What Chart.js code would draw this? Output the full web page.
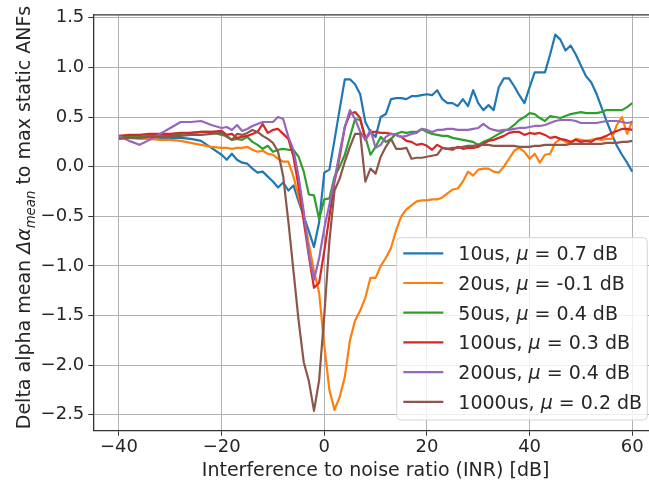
<!DOCTYPE html>
<html>
<head>
<meta charset="utf-8">
<script src="https://cdn.jsdelivr.net/npm/chart.js@4"></script>
<style>
  html, body { margin: 0; padding: 0; background: #fff; }
  #wrap { width: 649px; height: 484px; overflow: hidden; }
</style>
</head>
<body>
<div id="wrap"><canvas id="chart" width="670" height="484"></canvas></div>
<script>
// INR grid (dB)
const inr = [-40, -38, -36, -34, -32, -30, -28, -26, -24, -22, -20,
  -19, -18, -17, -16, -15, -14, -13, -12, -11, -10, -9, -8, -7, -6, -5, -4, -3, -2, -1,
  0, 1, 2, 3, 4, 5, 6, 7, 8, 9,
  10, 11, 12, 13, 14, 15, 16, 17, 18, 19,
  20, 21, 22, 23, 24, 25, 26, 27, 28, 29,
  30, 31, 32, 33, 34, 35, 36, 37, 38, 39,
  40, 41, 42, 43, 44, 45, 46, 47, 48, 49,
  50, 51, 52, 53, 54, 55, 56, 57, 58, 59, 60];

const alpha10us = [0.31, 0.30, 0.30, 0.30, 0.29, 0.29, 0.29, 0.28, 0.26, 0.19, 0.12,
  0.07, 0.13, 0.07, 0.04, 0.03, -0.02, -0.06, -0.05, -0.10, -0.15, -0.21, -0.16, -0.24, -0.19, -0.35, -0.50, -0.65, -0.81, -0.56,
  -0.06, -0.03, 0.27, 0.58, 0.88, 0.88, 0.83, 0.73, 0.45, 0.35,
  0.30, 0.50, 0.53, 0.68, 0.69, 0.69, 0.68, 0.71, 0.71, 0.72,
  0.73, 0.72, 0.77, 0.68, 0.64, 0.64, 0.61, 0.68, 0.61, 0.77,
  0.64, 0.57, 0.62, 0.57, 0.80, 0.89, 0.89, 0.81, 0.72, 0.64,
  0.80, 0.95, 0.95, 0.95, 1.13, 1.33, 1.28, 1.17, 1.22, 1.13,
  1.02, 0.91, 0.85, 0.74, 0.60, 0.46, 0.33, 0.21, 0.12, 0.04, -0.05];

const alpha20us = [0.30, 0.29, 0.28, 0.28, 0.27, 0.27, 0.26, 0.24, 0.22, 0.20, 0.19,
  0.19, 0.18, 0.19, 0.19, 0.20, 0.17, 0.15, 0.16, 0.13, 0.12, 0.08, 0.05, 0.05, -0.10, -0.30, -0.50, -0.78, -1.05, -1.27,
  -1.80, -2.25, -2.45, -2.32, -2.12, -1.75, -1.55, -1.45, -1.32, -1.12,
  -1.12, -1.00, -0.92, -0.82, -0.64, -0.50, -0.43, -0.39, -0.35, -0.34,
  -0.34, -0.33, -0.33, -0.31, -0.27, -0.23, -0.22, -0.15, -0.05, -0.09,
  -0.03, -0.02, -0.02, -0.05, -0.06, 0.00, 0.08, 0.16, 0.19, 0.15,
  0.08, 0.13, 0.04, 0.12, 0.13, 0.24, 0.28, 0.25, 0.23, 0.28,
  0.27, 0.26, 0.27, 0.28, 0.27, 0.28, 0.28, 0.42, 0.50, 0.33, 0.46];

const alpha50us = [0.30, 0.30, 0.30, 0.31, 0.31, 0.32, 0.33, 0.34, 0.35, 0.35, 0.32,
  0.31, 0.27, 0.28, 0.27, 0.30, 0.25, 0.22, 0.18, 0.21, 0.15, 0.17, 0.18, 0.17, 0.17, 0.10, -0.05, -0.28, -0.29, -0.53,
  -0.33, -0.32, -0.10, 0.00, 0.12, 0.30, 0.48, 0.47, 0.30, 0.12,
  0.20, 0.30, 0.25, 0.28, 0.33, 0.35, 0.34, 0.35, 0.35, 0.38,
  0.35, 0.33, 0.32, 0.31, 0.31, 0.29, 0.28, 0.27, 0.26, 0.25,
  0.22, 0.25, 0.27, 0.30, 0.33, 0.36, 0.38, 0.42, 0.47, 0.50,
  0.54, 0.53, 0.49, 0.46, 0.51, 0.50, 0.49, 0.51, 0.53, 0.54,
  0.55, 0.54, 0.54, 0.54, 0.55, 0.57, 0.57, 0.57, 0.57, 0.60, 0.64];

const alpha100us = [0.31, 0.32, 0.32, 0.33, 0.33, 0.33, 0.34, 0.34, 0.35, 0.35, 0.36,
  0.32, 0.33, 0.29, 0.30, 0.31, 0.33, 0.35, 0.43, 0.34, 0.37, 0.38, 0.33, 0.28, 0.10, -0.20, -0.55, -0.90, -1.22, -1.17,
  -0.85, -0.50, -0.15, 0.10, 0.40, 0.53, 0.55, 0.49, 0.27, 0.35,
  0.35, 0.34, 0.34, 0.33, 0.32, 0.30, 0.26, 0.25, 0.22, 0.23,
  0.21, 0.17, 0.22, 0.19, 0.18, 0.17, 0.20, 0.18, 0.19, 0.19,
  0.20, 0.23, 0.26, 0.27, 0.29, 0.31, 0.34, 0.35, 0.35, 0.32,
  0.34, 0.33, 0.34, 0.32, 0.29, 0.30, 0.28, 0.27, 0.25, 0.27,
  0.25, 0.26, 0.25, 0.28, 0.29, 0.31, 0.34, 0.36, 0.38, 0.38, 0.37];

const alpha200us = [0.31, 0.26, 0.22, 0.27, 0.33, 0.39, 0.45, 0.45, 0.46, 0.42, 0.39,
  0.40, 0.37, 0.42, 0.36, 0.38, 0.41, 0.43, 0.45, 0.45, 0.45, 0.50, 0.48, 0.30, 0.17, -0.10, -0.45, -0.88, -1.14, -0.92,
  -0.62, -0.38, -0.13, 0.14, 0.40, 0.57, 0.48, 0.35, 0.27, 0.37,
  0.19, 0.22, 0.30, 0.33, 0.32, 0.30, 0.31, 0.33, 0.34, 0.38,
  0.37, 0.35, 0.37, 0.37, 0.38, 0.38, 0.37, 0.37, 0.37, 0.38,
  0.39, 0.43, 0.39, 0.37, 0.36, 0.37, 0.37, 0.38, 0.39, 0.39,
  0.40, 0.41, 0.41, 0.42, 0.44, 0.46, 0.47, 0.47, 0.47, 0.46,
  0.44, 0.44, 0.44, 0.44, 0.45, 0.46, 0.46, 0.46, 0.45, 0.44, 0.45];

const alpha1000us = [0.28, 0.29, 0.29, 0.30, 0.30, 0.31, 0.31, 0.32, 0.32, 0.33, 0.34,
  0.30, 0.27, 0.33, 0.32, 0.34, 0.37, 0.35, 0.31, 0.28, 0.24, 0.15, -0.10, -0.55, -1.05, -1.55, -1.97, -2.16, -2.46, -2.15,
  -1.50, -0.75, -0.24, -0.12, 0.05, 0.20, 0.33, 0.33, -0.15, -0.02,
  -0.07, 0.10, 0.20, 0.28, 0.18, 0.18, 0.19, 0.08, 0.09, 0.09,
  0.10, 0.11, 0.12, 0.19, 0.18, 0.19, 0.19, 0.20, 0.21, 0.21,
  0.22, 0.22, 0.22, 0.21, 0.21, 0.21, 0.21, 0.21, 0.20, 0.20,
  0.20, 0.21, 0.21, 0.22, 0.22, 0.22, 0.22, 0.22, 0.23, 0.23,
  0.23, 0.23, 0.23, 0.23, 0.23, 0.24, 0.24, 0.24, 0.25, 0.25, 0.26];

const labels = ['10us, μ = 0.7 dB', '20us, μ = -0.1 dB', '50us, μ = 0.4 dB',
  '100us, μ = 0.3 dB', '200us, μ = 0.4 dB', '1000us, μ = 0.2 dB'];
const colors = ['#1f77b4', '#ff7f0e', '#2ca02c', '#d62728', '#9467bd', '#8c564b'];
const series = [alpha10us, alpha20us, alpha50us, alpha100us, alpha200us, alpha1000us];

const xTitle = 'Interference to noise ratio (INR) [dB]';
const textColor = '#262626';
const family = '"DejaVu Sans", sans-serif';

function minus(s) { return String(s).replace('-', '\u2212'); }

// axis titles (y title has italic Δα with "mean" subscript) + top spine
const axisTitles = {
  id: 'axisTitles',
  afterDraw(chart) {
    const ctx = chart.ctx, a = chart.chartArea;
    ctx.save();
    ctx.fillStyle = textColor;
    ctx.font = '19px ' + family;
    ctx.textAlign = 'center';
    ctx.textBaseline = 'alphabetic';
    ctx.fillText(xTitle, (a.left + a.right) / 2, 476);

    const parts = [
      {t: 'Delta alpha mean ', f: '19px ' + family, dy: 0},
      {t: 'Δα', f: 'italic 19px ' + family, dy: 0},
      {t: 'mean', f: 'italic 13.3px ' + family, dy: 4.5},
      {t: ' to max static ANFs', f: '19px ' + family, dy: 0}
    ];
    let total = 0;
    parts.forEach(p => { ctx.font = p.f; p.w = ctx.measureText(p.t).width; total += p.w; });
    ctx.translate(30, 217.5);
    ctx.rotate(-Math.PI / 2);
    ctx.textAlign = 'left';
    let x = -total / 2;
    parts.forEach(p => { ctx.font = p.f; ctx.fillText(p.t, x, p.dy); x += p.w; });
    ctx.restore();

    ctx.save();
    ctx.strokeStyle = '#333';
    ctx.lineWidth = 1.3;
    ctx.beginPath();
    ctx.moveTo(a.left, a.top);
    ctx.lineTo(a.right, a.top);
    ctx.stroke();
    ctx.restore();
  }
};

// legend in lower right, drawn like matplotlib's
const legendBox = {
  id: 'legendBox',
  afterDraw(chart) {
    const ctx = chart.ctx, a = chart.chartArea;
    const font = '19px ' + family, ifont = 'italic 19px ' + family;
    ctx.save();
    const items = chart.data.datasets.map(ds => {
      const segs = ds.label.split('μ');
      ctx.font = font;
      const w0 = ctx.measureText(segs[0]).width;
      ctx.font = ifont;
      const wm = ctx.measureText('μ').width;
      return {segs, w0, wm, color: ds.borderColor};
    });
    const rowH = 29.7;
    const boxR = a.right - 10.6, boxB = a.bottom - 10.7;
    const boxT = boxB - 182.3;
    const boxL = boxR - 250.6;
    const r = 4;
    ctx.beginPath();
    ctx.moveTo(boxL + r, boxT);
    ctx.arcTo(boxR, boxT, boxR, boxB, r);
    ctx.arcTo(boxR, boxB, boxL, boxB, r);
    ctx.arcTo(boxL, boxB, boxL, boxT, r);
    ctx.arcTo(boxL, boxT, boxR, boxT, r);
    ctx.closePath();
    ctx.fillStyle = 'rgba(255,255,255,0.8)';
    ctx.fill();
    ctx.strokeStyle = '#d5d5d5';
    ctx.lineWidth = 1;
    ctx.stroke();

    items.forEach((it, i) => {
      const cy = boxT + 15.6 + i * rowH;
      ctx.strokeStyle = it.color;
      ctx.lineWidth = 2.2;
      ctx.beginPath();
      ctx.moveTo(boxL + 6.6, cy);
      ctx.lineTo(boxL + 46.6, cy);
      ctx.stroke();
      ctx.fillStyle = textColor;
      ctx.textBaseline = 'alphabetic';
      ctx.textAlign = 'left';
      const tx = boxL + 61.6, ty = cy + 7;
      ctx.font = font;
      ctx.fillText(it.segs[0], tx, ty);
      ctx.font = ifont;
      ctx.fillText('μ', tx + it.w0, ty);
      ctx.font = font;
      ctx.fillText(it.segs[1], tx + it.w0 + it.wm, ty);
    });
    ctx.restore();
  }
};

const datasets = series.map((s, i) => ({
  label: labels[i],
  data: inr.map((x, j) => ({x: x, y: s[j]})),
  borderColor: colors[i],
  backgroundColor: colors[i],
  borderWidth: 2.2,
  pointRadius: 0,
  tension: 0,
  borderJoinStyle: 'round',
  fill: false,
  order: series.length - i
}));

const ctx = document.getElementById('chart').getContext('2d');

const chart = new Chart(ctx, {
  type: 'line',
  data: { datasets: datasets },
  options: {
    responsive: false,
    animation: false,
    layout: { padding: { top: 10.3, right: 12.1, left: 0, bottom: 0 } },
    plugins: {
      legend: { display: false },
      tooltip: { enabled: false }
    },
    scales: {
      x: {
        type: 'linear',
        min: -45,
        max: 65,
        afterFit: function(scale) { scale.height = 53.3; },
        ticks: {
          stepSize: 20,
          includeBounds: false,
          maxRotation: 0,
          padding: 1,
          color: textColor,
          font: { family: family, size: 18 },
          callback: v => minus(v)
        },
        grid: { color: '#b0b0b0', lineWidth: 1, tickLength: 5, tickColor: '#333' },
        border: { display: true, color: '#333', width: 1.3 }
      },
      y: {
        type: 'linear',
        min: -2.66,
        max: 1.53,
        afterFit: function(scale) { scale.width = 93.3; },
        ticks: {
          stepSize: 0.5,
          includeBounds: false,
          padding: 4,
          color: textColor,
          font: { family: family, size: 18 },
          callback: v => minus(v.toFixed(1))
        },
        grid: { color: '#b0b0b0', lineWidth: 1, tickLength: 5, tickColor: '#333' },
        border: { display: true, color: '#333', width: 1.3 }
      }
    }
  },
  plugins: [axisTitles, legendBox]
});
</script>
</body>
</html>
